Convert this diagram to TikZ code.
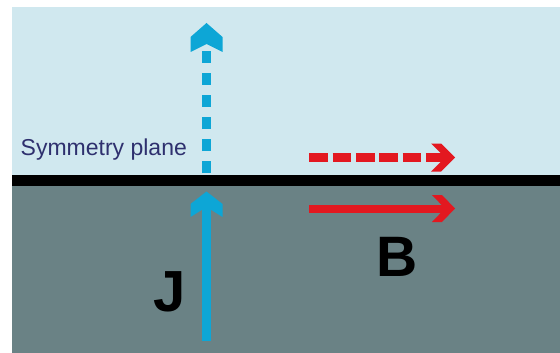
\documentclass[tikz,border=0pt]{standalone}
\usepackage{fontspec}
\setmainfont{Liberation Sans}
\definecolor{skyband}{RGB}{208,232,239}
\definecolor{slate}{RGB}{106,130,133}
\definecolor{jblue}{RGB}{13,166,214}
\definecolor{bred}{RGB}{227,24,32}
\definecolor{navy}{RGB}{46,48,110}
\tikzset{
  shaftline/.style={line width=8.5pt},
  jdash/.style={jblue, shaftline, dash pattern=on 12.3pt off 9.7pt},
  bdash/.style={bred, shaftline, dash pattern=on 18.7pt off 4.6pt},
  lbl/.style={inner sep=0pt, anchor=base west},
}
\begin{document}
\begin{tikzpicture}[x=1pt,y=-1pt]
\useasboundingbox (0,0) rectangle (560,353);
\fill[white] (0,0) rectangle (560,353);
% regions
\fill[skyband] (12,7) rectangle (560,175);
\fill[black] (12,175) rectangle (560,186);
\fill[slate] (12,186) rectangle (560,353);
% coordinates
\coordinate (jupbase) at (206.5,173);
\coordinate (jupend) at (206.5,46);
\coordinate (jdownbase) at (206.5,341);
\coordinate (jdownend) at (206.5,206);
\coordinate (bupbase) at (309.3,157.5);
\coordinate (bupend) at (445,157.5);
\coordinate (bdownbase) at (309.3,209);
\coordinate (bdownend) at (445,209);
% blue dashed arrow (mirror current)
\draw[jdash] (jupbase) -- (jupend);
\fill[jblue] (206.5,23) -- (222.5,37) -- (222.5,52) -- (206.5,44) -- (190.5,52) -- (190.5,37) -- cycle;
% blue solid arrow
\draw[jblue, shaftline] (jdownbase) -- (jdownend);
\fill[jblue] (206.5,191.5) -- (222.5,204) -- (222.5,217) -- (206.5,207) -- (190.5,217) -- (190.5,204) -- cycle;
% red dashed arrow
\draw[bdash] (bupbase) -- (bupend);
\fill[bred] (455,157.5) -- (441,143.5) -- (431,143.5) -- (445,157.5) -- (431,171.5) -- (441,171.5) -- cycle;
% red solid arrow
\draw[bred, shaftline] (bdownbase) -- (bdownend);
\fill[bred] (455,208.5) -- (442,195) -- (432,195) -- (445,208.5) -- (432,222) -- (442,222) -- cycle;
% labels
\node[lbl, text=navy, font=\fontsize{23}{23}\selectfont] (sym) at (20.5,155) {Symmetry plane};
\node[lbl, font=\fontsize{58}{58}\bfseries\selectfont] (jlab) at (153,311) {J};
\node[lbl, font=\fontsize{57}{57}\bfseries\selectfont] (blab) at (376,276) {B};
\end{tikzpicture}
\end{document}
